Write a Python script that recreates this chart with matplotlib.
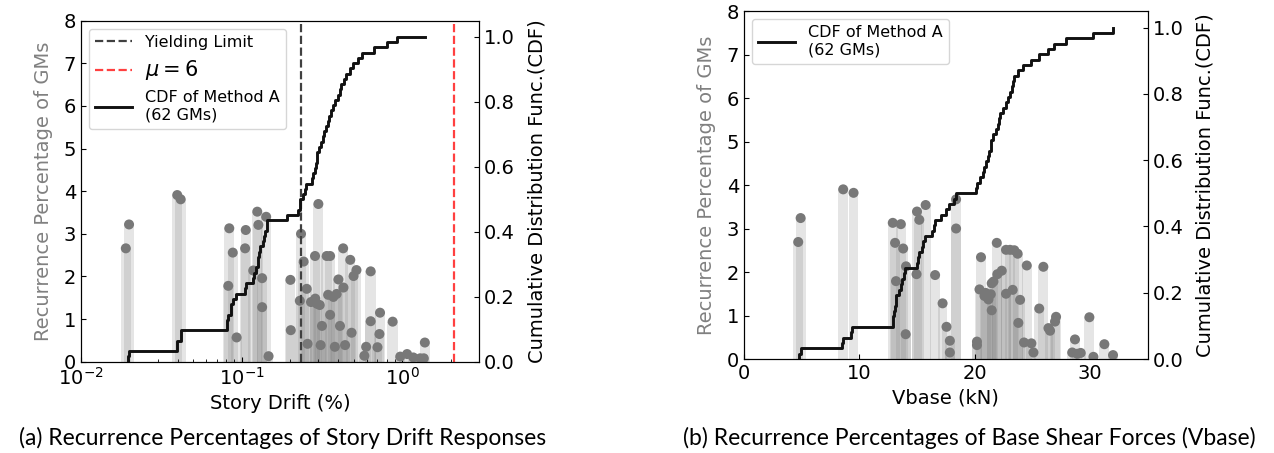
import numpy as np
import matplotlib.pyplot as plt

# ---- panel (a): story drift ----
# recurrence percentage dots (drift in %, recurrence in %)
drift_pts = [0.0190, 0.0199, 0.0397, 0.0417, 0.0837, 0.088, 0.0825, 0.093,
             0.106, 0.105, 0.118, 0.125, 0.127, 0.142, 0.134, 0.134, 0.147,
             0.201, 0.202, 0.234, 0.243, 0.230, 0.254, 0.257,
             0.300, 0.286, 0.338, 0.355, 0.428, 0.474, 0.497, 0.518, 0.635,
             0.287, 0.294, 0.306, 0.345, 0.372, 0.390, 0.400, 0.430, 0.355,
             0.316, 0.409, 0.483, 0.310, 0.380, 0.440,
             0.635, 0.726, 0.720, 0.870, 0.595, 0.580, 0.700,
             0.97, 1.07, 1.17, 1.29, 1.36, 1.38, 0.27]
drift_pct = [2.66, 3.22, 3.91, 3.81, 3.13, 2.56, 1.78, 0.57,
             3.09, 2.66, 2.14, 3.52, 3.21, 3.40, 1.96, 1.28, 0.13,
             1.92, 0.74, 3.00, 2.35, 1.43, 1.71, 0.42,
             3.70, 2.48, 2.48, 2.48, 2.66, 2.39, 2.01, 2.15, 2.12,
             1.48, 1.36, 1.33, 1.57, 1.52, 1.59, 1.93, 1.74, 1.10,
             0.84, 0.84, 0.68, 0.39, 0.35, 0.39,
             0.95, 1.15, 0.65, 0.94, 0.35, 0.14, 0.34,
             0.12, 0.18, 0.10, 0.08, 0.08, 0.45, 1.40]
# CDF of Method A (62 GMs), drift values
drift_cdf = [0.0195, 0.0199, 0.0394, 0.0396, 0.0418, 0.042, 0.0807, 0.081,
             0.0826, 0.0854, 0.0856, 0.0887, 0.092, 0.105, 0.107, 0.117,
             0.120, 0.123, 0.126, 0.127, 0.129, 0.130, 0.135, 0.138, 0.140,
             0.143, 0.144, 0.192, 0.223, 0.230, 0.232, 0.240, 0.248, 0.250,
             0.274, 0.276, 0.286, 0.288, 0.293, 0.295, 0.303, 0.313, 0.322,
             0.325, 0.335, 0.345, 0.347, 0.359, 0.370, 0.383, 0.397, 0.410,
             0.414, 0.431, 0.446, 0.469, 0.493, 0.532, 0.560, 0.668, 0.80,
             0.93]
yield_drift = 0.234
mu6_drift = 2.1

# ---- panel (b): base shear ----
vbase_pts = [4.70, 4.91, 8.6, 9.5, 12.9, 13.6, 13.1, 13.8, 14.05, 13.18, 14.02,
             15.0, 15.75, 15.2, 14.96, 16.57, 17.22, 17.56, 17.85, 17.85,
             18.39, 18.39, 20.2, 20.2, 20.55, 20.42, 20.85, 21.2, 21.4, 21.48,
             21.48, 21.63, 20.95, 21.92, 21.97, 22.35, 22.72, 23.07, 23.44,
             23.73, 22.72, 23.3, 23.94, 23.79, 24.52, 25.96, 25.6, 24.28,
             24.92, 25.1, 26.4, 26.54, 27.06, 26.97, 28.7, 28.46, 28.9, 29.2,
             29.95, 30.3, 31.25, 32.0]
vbase_pct = [2.69, 3.24, 3.90, 3.82, 3.13, 3.10, 2.67, 2.54, 2.13, 1.79, 0.57,
             3.39, 3.54, 3.20, 1.95, 1.93, 1.28, 0.74, 0.42, 0.15,
             3.67, 3.00, 0.40, 0.32, 2.34, 1.60, 1.45, 1.37, 1.49, 1.74,
             1.12, 1.78, 1.52, 2.67, 1.95, 2.03, 2.51, 2.51, 2.50,
             2.42, 1.50, 1.59, 1.36, 0.83, 2.15, 2.12, 1.16, 0.38,
             0.36, 0.15, 0.71, 0.65, 0.97, 0.86, 0.45, 0.15, 0.12, 0.14,
             0.96, 0.05, 0.34, 0.09]
vbase_cdf = [4.8, 4.9, 8.5, 8.6, 9.3, 9.4, 12.9, 12.95, 13.0, 13.1, 13.15, 13.2,
             13.4, 13.6, 13.7, 13.9, 14.0, 15.0, 15.05, 15.2, 15.4, 15.5, 15.7,
             16.3, 16.5, 16.6, 17.1, 17.5, 17.8, 18.2, 18.35, 20.15, 20.2,
             20.45, 20.7, 20.8, 21.0, 21.15, 21.25, 21.4, 21.45, 21.6, 21.85,
             22.0, 22.1, 22.2, 22.5, 22.7, 22.9, 23.1, 23.25, 23.3, 23.45,
             23.8, 24.2, 24.85, 25.6, 26.4, 26.9, 27.9, 30.3, 32.0]

fs = 14
fig = plt.figure(figsize=(12.74, 4.53), dpi=100)


def panel(rect, x, pct, xc, width, xlim, xlabel, logx):
    ax = fig.add_axes(rect)
    if logx:
        ax.set_xscale('log')
    ax.bar(x, pct, width=width, color='gray', alpha=0.2, linewidth=0, zorder=1)
    ax.scatter(x, pct, s=52, color='#787878', edgecolors='none', zorder=3)
    ax.set_xlim(xlim)
    ax.set_ylim(0, 8)
    ax.set_yticks(range(0, 9))
    ax.set_xlabel(xlabel, fontsize=fs)
    ax.set_ylabel('Recurrence Percentage of GMs', fontsize=fs, color='gray', labelpad=8)
    ax.tick_params(direction='in', which='both', labelsize=fs)

    ax2 = ax.twinx()
    xs = np.sort(xc)
    n = len(xs)
    ax2.step(np.r_[xs[0], xs, max(x)], np.r_[0, np.arange(1, n + 1) / n, 1.0],
             where='post', color='#111111', lw=2.1, label='CDF of Method A\n(62 GMs)')
    ax2.set_ylim(0, 1.05)
    ax2.set_yticks(np.arange(0, 1.01, 0.2))
    ax2.set_yticklabels(['%.1f' % v for v in np.arange(0, 1.01, 0.2)])
    ax2.set_ylabel('Cumulative Distribution Func.(CDF)', fontsize=fs, labelpad=9)
    ax2.tick_params(direction='in', which='both', labelsize=fs)
    return ax, ax2


# (a) story drift
axa, axa2 = panel([0.0636, 0.2015, 0.3124, 0.7528], drift_pts, drift_pct, drift_cdf,
                  0.145 * np.array(drift_pts), (0.01, 3.0), 'Story Drift (%)', True)
l1 = axa.axvline(yield_drift, color='#404040', ls='--', lw=1.6, zorder=4, label='Yielding Limit')
l2 = axa.axvline(mu6_drift, color='red', ls='--', lw=1.6, alpha=0.75, zorder=4, label=r'$\mu = 6$')
h2, lab2 = axa2.get_legend_handles_labels()
leg = axa2.legend([l1, l2] + h2, ['Yielding Limit', r'$\mu = 6$'] + lab2,
                  loc='upper left', fontsize=11.5, handlelength=2.3)
leg.get_texts()[1].set_fontsize(15)

# (b) base shear
axb, axb2 = panel([0.584, 0.2075, 0.3168, 0.7682], vbase_pts, vbase_pct, vbase_cdf,
                  0.85, (0, 35), 'Vbase (kN)', False)
axb.set_xticks([0, 10, 20, 30])
axb2.legend(loc='upper left', fontsize=11.5, handlelength=2.3)

# captions
fig.text(0.222, 0.034, '(a) Recurrence Percentages of Story Drift Responses',
         ha='center', va='center', fontsize=16.5, family='Lato')
fig.text(0.761, 0.034, '(b) Recurrence Percentages of Base Shear Forces (Vbase)',
         ha='center', va='center', fontsize=16.5, family='Lato')

plt.savefig('out.png', dpi=100)
